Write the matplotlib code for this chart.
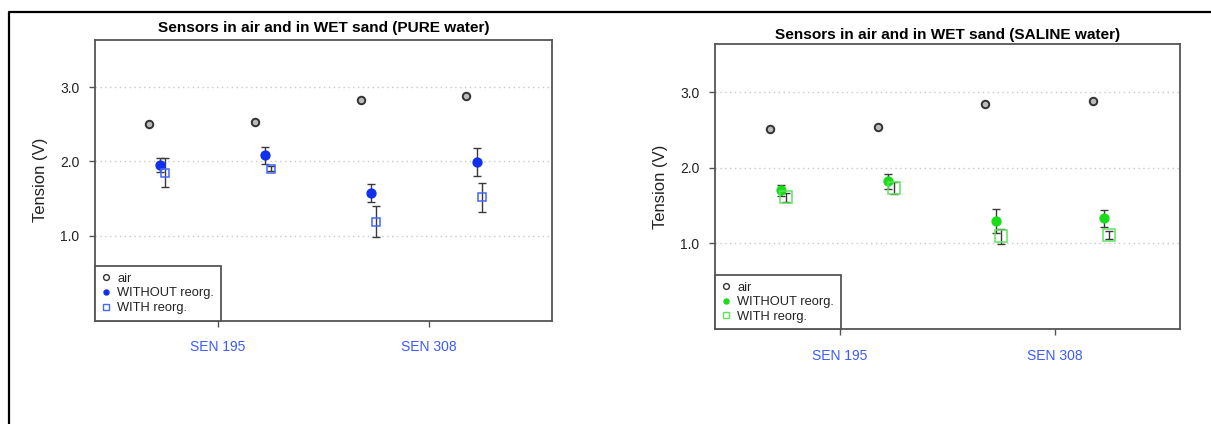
import matplotlib
matplotlib.use("Agg")
import matplotlib.pyplot as plt
import numpy as np
from matplotlib.lines import Line2D

plt.rcParams['font.family'] = ['Liberation Sans', 'DejaVu Sans']

# ---------------- data ----------------
groups = [1, 2, 3, 4]
sensor_labels = ["SEN 195", "SEN 308"]
sensor_ticks = [1.5, 3.5]
y_ticks = [1.0, 2.0, 3.0]
legend_labels = ["air", "WITHOUT reorg.", "WITH reorg."]

pure_title = "Sensors in air and in WET sand (PURE water)"
pure_air = [2.51, 2.53, 2.83, 2.88]
pure_without = [1.95, 2.08, 1.58, 1.99]
pure_without_err = [0.09, 0.12, 0.12, 0.185]
pure_with = [1.85, 1.90, 1.19, 1.52]
pure_with_err = [0.20, 0.035, 0.205, 0.195]

saline_title = "Sensors in air and in WET sand (SALINE water)"
saline_air = [2.51, 2.54, 2.84, 2.89]
saline_without = [1.70, 1.82, 1.30, 1.33]
saline_without_err = [0.07, 0.10, 0.16, 0.11]
saline_with = [1.61, 1.73, 1.09, 1.11]
saline_with_err = [0.06, 0.075, 0.105, 0.055]

# ---------------- figure ----------------
W, H = 1211, 424
fig = plt.figure(figsize=(W / 100, H / 100), dpi=100)

# outer black frame (top and left edges visible)
fx = 8.7 / W
fy = 1 - 12.3 / H
fig.add_artist(Line2D([fx, fx, 1.0], [0.0, fy, fy], transform=fig.transFigure,
                      color='black', lw=1.6, solid_capstyle='butt'))

SPINE = '#555555'
TXT = '#222222'
TICKC = '#3b5bff'


def panel(rect_px, title, title_y_px, air, wo, wo_err, wi, wi_err,
          dot_col, sq_col, sq_size):
    x0, y0, x1, y1 = rect_px
    ax = fig.add_axes([x0 / W, 1 - y1 / H, (x1 - x0) / W, (y1 - y0) / H])
    g = np.array(groups, dtype=float)
    ax.set_xlim(0.34, 4.66)
    ax.set_ylim(-0.14, 3.64)
    for yv in y_ticks:
        ax.axhline(yv, color='#c8c8c8', lw=1.0, ls=(0, (1, 2.5)), zorder=0)

    ekw = dict(fmt='none', ecolor='#3a3a3a', elinewidth=1.0, capsize=3.2,
               capthick=1.0, zorder=2)
    ax.errorbar(g - 0.05, wo, yerr=wo_err, **ekw)
    ax.errorbar(g, wi, yerr=wi_err, **ekw)

    ax.plot(g - 0.15, air, ls='none', marker='o', ms=5.4, mfc='#bbbbbb',
            mec='#333333', mew=1.4, zorder=3)
    ax.plot(g - 0.05, wo, ls='none', marker='o', ms=6.4, mfc=dot_col,
            mec=dot_col, zorder=3)
    ax.plot(g, wi, ls='none', marker='s', ms=sq_size, mfc='none',
            mec=sq_col, mew=1.1, zorder=3)

    ax.set_xticks(sensor_ticks)
    ax.set_xticklabels(sensor_labels, color=TICKC, fontsize=10)
    ax.set_yticks(y_ticks)
    ax.set_yticklabels([f"{v:.1f}" for v in y_ticks], color=TXT, fontsize=10)
    ax.tick_params(axis='both', direction='out', length=4.2, width=1.0,
                   color=SPINE)
    ax.tick_params(axis='x', pad=10)
    ax.tick_params(axis='y', pad=7)
    for s in ax.spines.values():
        s.set_color(SPINE)
        s.set_linewidth(1.3)
    ax.set_ylabel("Tension (V)", fontsize=12, color=TXT, labelpad=9)

    fig.text((x0 + x1) / 2 / W, 1 - title_y_px / H, title, ha='center',
             va='center', fontsize=11.1, fontweight='bold', color='black')

    handles = [
        Line2D([], [], ls='none', marker='o', ms=4.2, mfc='none',
               mec='#333333', mew=1.0),
        Line2D([], [], ls='none', marker='o', ms=3.6, mfc=dot_col,
               mec=dot_col),
        Line2D([], [], ls='none', marker='s', ms=4.4, mfc='none',
               mec=sq_col, mew=1.0),
    ]
    leg = ax.legend(handles, legend_labels, loc='lower left',
                    bbox_to_anchor=(0, 0), borderaxespad=0, fontsize=9.3,
                    frameon=True, fancybox=False, borderpad=0.5,
                    handlelength=0.67, handletextpad=0.57, labelspacing=0.2)
    fr = leg.get_frame()
    fr.set_edgecolor(SPINE)
    fr.set_linewidth(1.3)
    fr.set_facecolor('white')
    fr.set_alpha(1)
    for t in leg.get_texts():
        t.set_color(TXT)
    return ax


panel((95, 39.5, 552, 320.5), pure_title, 28, pure_air,
      pure_without, pure_without_err, pure_with, pure_with_err,
      '#1030ee', '#4466ff', 6.2)
panel((715, 44, 1180, 329.3), saline_title, 34.5, saline_air,
      saline_without, saline_without_err, saline_with, saline_with_err,
      '#18dd18', '#5ee45e', 8.6)

fig.savefig("out.png", dpi=100)
